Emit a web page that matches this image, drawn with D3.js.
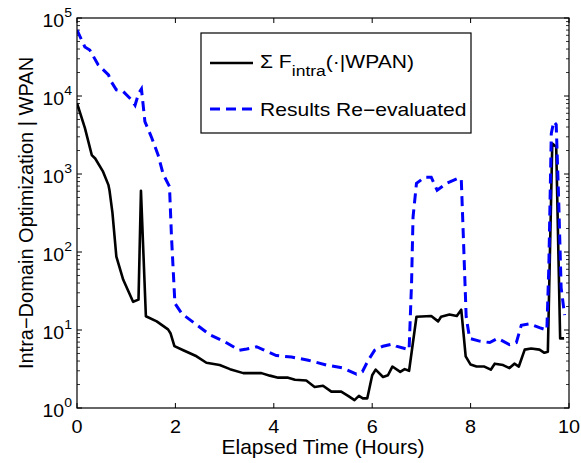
<!DOCTYPE html>
<html>
<head>
<meta charset="utf-8">
<script src="https://cdn.jsdelivr.net/npm/d3@7"></script>
<style>
  html, body { margin: 0; padding: 0; background: #fff; }
  svg { display: block; font-family: "Liberation Sans", Arial, sans-serif; }
</style>
</head>
<body>
<svg id="chart" width="581" height="463"></svg>
<script>
// ---- Data ----
const blackT = [0,0.16,0.3,0.37,0.53,0.64,0.66,0.72,0.8,0.94,1.14,1.25,1.3,1.4,1.62,1.85,1.9,1.98,2.16,2.43,2.63,2.9,3.11,3.38,3.51,3.75,3.92,4.09,4.29,4.43,4.66,4.83,5.0,5.17,5.37,5.51,5.64,5.73,5.81,5.9,6.0,6.07,6.22,6.32,6.41,6.57,6.66,6.75,6.9,7.2,7.34,7.4,7.57,7.72,7.81,7.9,8.0,8.12,8.28,8.41,8.49,8.66,8.79,8.89,8.98,9.1,9.23,9.4,9.5,9.57,9.66,9.74,9.82,9.9];
const blackV = [8100,3900,1750,1580,1070,720,620,320,87,44,23,24.5,610,15,12.9,10.2,9.1,6.2,5.5,4.6,3.8,3.55,3.15,2.8,2.8,2.8,2.6,2.45,2.45,2.3,2.25,1.86,1.93,1.62,1.62,1.43,1.26,1.43,1.33,1.33,2.63,3.1,2.5,2.63,3.4,2.9,3.15,3.0,14.8,15.1,12.9,14.8,15.8,15.1,18.2,4.6,3.6,3.4,3.4,3.1,3.7,3.55,3.25,3.7,3.4,5.6,5.8,5.6,5.1,5.25,2450,2240,7.8,7.8];

const blueT = [0,0.16,0.26,0.43,0.64,0.7,0.8,0.94,1.11,1.18,1.25,1.31,1.38,1.52,1.65,1.75,1.88,1.92,1.99,2.13,2.43,2.7,3.0,3.3,3.45,3.65,3.78,4.05,4.36,4.7,5.07,5.41,5.68,5.8,5.92,6.05,6.22,6.41,6.49,6.75,6.8,6.83,6.9,7.07,7.2,7.32,7.51,7.72,7.81,7.85,7.91,7.98,8.18,8.39,8.55,8.79,8.93,9.03,9.2,9.4,9.55,9.59,9.64,9.69,9.74,9.79,9.84,9.91];
const blueV = [70000,42600,38900,25100,18600,15100,12000,11400,8900,7600,10700,12300,4700,2900,1740,1000,690,160,22,16.2,11.7,8.7,7.1,5.5,5.7,6.1,5.6,4.7,4.5,4.1,3.55,3.25,2.72,2.92,4.1,5.5,6.2,6.6,6.2,5.6,40,280,760,910,910,620,760,870,870,175,14.8,7.8,7.2,6.9,7.8,6.5,6.9,11.5,12,10.7,10,65,3300,4700,4300,470,35,15.5];

const xTicks = [0,2,4,6,8,10];
const yTickExps = [0,1,2,3,4,5];
const seriesNames = ["\u03A3 F", "Results Re\u2212evaluated"];
const xLabel = "Elapsed Time (Hours)";
const yLabel = "Intra\u2212Domain Optimization | WPAN";

// ---- Layout ----
const L = 77, R = 569, T = 18, B = 408;
const svg = d3.select("#chart");
const x = d3.scaleLinear().domain([0, 10]).range([L, R]);
const y = d3.scaleLog().domain([1, 1e5]).range([B, T]);

const minor = [];
for (let e = 0; e < 5; e++) for (let k = 2; k <= 9; k++) minor.push(k * Math.pow(10, e));

const g = svg.append("g");
const tickLenMaj = 5, tickLenMin = 3;
xTicks.forEach(t => {
  g.append("line").attr("x1", x(t)).attr("x2", x(t)).attr("y1", B).attr("y2", B - tickLenMaj).attr("stroke", "#000");
  g.append("line").attr("x1", x(t)).attr("x2", x(t)).attr("y1", T).attr("y2", T + tickLenMaj).attr("stroke", "#000");
  g.append("text").attr("transform", `translate(${x(t)},${B + 25}) scale(1.1,1)`).attr("text-anchor", "middle")
    .attr("font-size", 18).text(t);
});
yTickExps.forEach(e => {
  const v = Math.pow(10, e);
  g.append("line").attr("x1", L).attr("x2", L + tickLenMaj).attr("y1", y(v)).attr("y2", y(v)).attr("stroke", "#000");
  g.append("line").attr("x1", R).attr("x2", R - tickLenMaj).attr("y1", y(v)).attr("y2", y(v)).attr("stroke", "#000");
  const tx = g.append("text").attr("transform", `translate(${L - 5},${y(v) + 9}) scale(1.08,1)`)
    .attr("text-anchor", "end").attr("font-size", 18);
  tx.append("tspan").text("10");
  tx.append("tspan").attr("font-size", 13).attr("dy", -10).text(e);
});
minor.forEach(v => {
  g.append("line").attr("x1", L).attr("x2", L + tickLenMin).attr("y1", y(v)).attr("y2", y(v)).attr("stroke", "#000").attr("stroke-width", 0.8);
  g.append("line").attr("x1", R).attr("x2", R - tickLenMin).attr("y1", y(v)).attr("y2", y(v)).attr("stroke", "#000").attr("stroke-width", 0.8);
});

svg.append("clipPath").attr("id", "clip").append("rect").attr("x", L).attr("y", T).attr("width", R - L).attr("height", B - T);

const line = d3.line().x(d => x(d[0])).y(d => y(d[1]));
const blackData = blackT.map((t, i) => [t, blackV[i]]);
const blueData = blueT.map((t, i) => [t, blueV[i]]);

const plot = svg.append("g").attr("clip-path", "url(#clip)");
plot.append("path").datum(blackData).attr("d", line).attr("fill", "none")
  .attr("stroke", "#000").attr("stroke-width", 2.6).attr("stroke-linejoin", "round");
plot.append("path").datum(blueData).attr("d", line).attr("fill", "none")
  .attr("stroke", "#0000ff").attr("stroke-width", 3).attr("stroke-dasharray", "10,6");

svg.append("rect").attr("x", L).attr("y", T).attr("width", R - L).attr("height", B - T)
  .attr("fill", "none").attr("stroke", "#000").attr("stroke-width", 1.2);

// Axis labels
svg.append("text").attr("x", (L + R) / 2).attr("y", 454).attr("text-anchor", "middle")
  .attr("font-size", 21).text(xLabel);
svg.append("text").attr("transform", `translate(33,${(T + B) / 2}) rotate(-90)`)
  .attr("text-anchor", "middle").attr("font-size", 20).text(yLabel);

// Legend
const lg = svg.append("g");
lg.append("rect").attr("x", 201).attr("y", 33).attr("width", 270).attr("height", 100)
  .attr("fill", "#fff").attr("stroke", "#000").attr("stroke-width", 1.2);
lg.append("line").attr("x1", 210).attr("x2", 253).attr("y1", 63).attr("y2", 63)
  .attr("stroke", "#000").attr("stroke-width", 2.6);
lg.append("line").attr("x1", 210).attr("x2", 253).attr("y1", 109).attr("y2", 109)
  .attr("stroke", "#0000ff").attr("stroke-width", 3).attr("stroke-dasharray", "10,6");
const t1 = lg.append("text").attr("transform", "translate(260,68) scale(1.17,1)").attr("font-size", 18);
t1.append("tspan").text(seriesNames[0]);
t1.append("tspan").attr("font-size", 15).attr("dy", 8).text("intra");
t1.append("tspan").attr("dy", -8).text("(\u00B7|WPAN)");
lg.append("text").attr("transform", "translate(260,116) scale(1.17,1)").attr("font-size", 18).text(seriesNames[1]);
</script>
</body>
</html>
